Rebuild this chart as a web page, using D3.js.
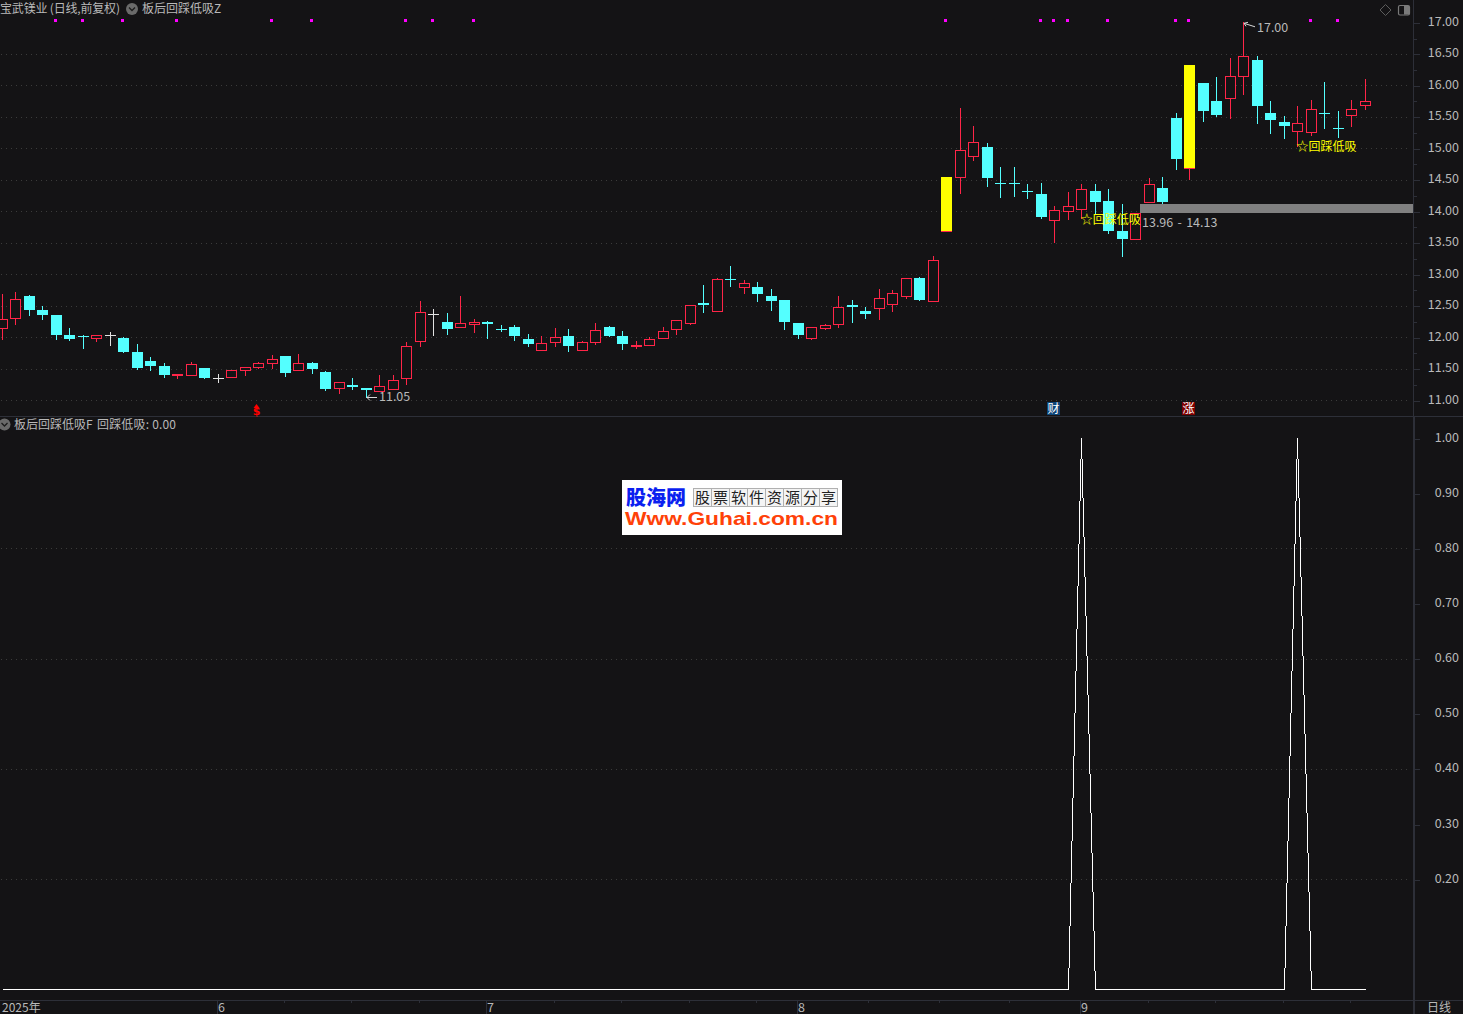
<!DOCTYPE html>
<html><head><meta charset="utf-8">
<script src="https://cdn.jsdelivr.net/npm/d3@7/dist/d3.min.js"></script>
<style>
html,body{margin:0;padding:0;background:#141315;overflow:hidden}
svg{display:block}
text{font-family:"Noto Sans CJK SC","Noto Sans",sans-serif;fill:#b9b9b9;font-size:12px}
</style></head><body><div id="c"></div>
<script>
const opens=[12.15,12.30,12.65,12.43,12.35,12.03,12.02,11.99,12.03,11.98,
11.76,11.62,11.54,11.40,11.40,11.51,11.35,11.36,11.47,11.53,
11.58,11.70,11.47,11.58,11.44,11.19,11.24,11.19,11.15,11.18,
11.35,11.93,12.37,12.24,12.16,12.21,12.24,12.135,12.16,11.97,
11.80,11.92,12.01,11.80,11.92,12.16,12.02,11.85,11.87,11.98,
12.12,12.23,12.54,12.42,12.925,12.80,12.80,12.66,12.59,12.23,
11.99,12.15,12.20,12.51,12.42,12.46,12.52,12.65,12.94,12.57,
13.69,14.55,14.88,15.02,14.445,14.445,14.325,14.28,13.86,14.01,
14.03,14.32,14.16,13.69,13.55,14.15,14.37,15.48,14.69,16.04,
15.75,15.80,16.14,16.40,15.56,15.42,15.28,15.25,15.565,15.32,
15.52,15.69];
const closes=[12.28,12.61,12.43,12.35,12.04,11.97,12.01,12.03,12.03,11.77,
11.51,11.54,11.39,11.41,11.57,11.35,11.35,11.47,11.53,11.58,
11.65,11.43,11.58,11.49,11.18,11.28,11.21,11.16,11.22,11.31,
11.85,12.39,12.37,12.13,12.22,12.24,12.20,12.125,12.01,11.89,
11.90,12.00,11.85,11.92,12.11,12.02,11.89,11.88,11.97,12.10,
12.27,12.51,12.51,12.92,12.915,12.86,12.69,12.58,12.24,12.04,
12.16,12.19,12.48,12.47,12.37,12.62,12.70,12.94,12.59,13.22,
14.54,14.97,15.10,14.53,14.435,14.435,14.315,13.91,14.02,14.08,
14.35,14.15,13.69,13.56,13.97,14.43,14.15,14.83,16.32,15.59,
15.53,16.14,16.46,15.67,15.45,15.35,15.40,15.63,15.555,15.30,
15.63,15.75];
const highs=[12.68,12.71,12.67,12.49,12.35,12.14,12.03,12.03,12.08,12.00,
11.89,11.68,11.59,11.42,11.60,11.51,11.41,11.47,11.53,11.60,
11.71,11.70,11.73,11.60,11.46,11.28,11.35,11.19,11.39,11.39,
11.92,12.57,12.44,12.38,12.65,12.29,12.25,12.19,12.19,12.05,
12.02,12.15,12.12,11.94,12.23,12.18,12.10,11.93,12.00,12.16,
12.27,12.51,12.83,12.94,13.13,12.91,12.88,12.77,12.59,12.23,
12.16,12.21,12.66,12.59,12.48,12.77,12.74,12.94,12.96,13.28,
14.54,15.64,15.35,15.08,14.70,14.70,14.43,14.45,14.08,14.31,
14.43,14.43,14.35,14.12,13.97,14.53,14.54,15.56,16.32,16.04,
16.13,16.43,17.00,16.47,15.75,15.51,15.67,15.77,16.05,15.59,
15.77,16.10];
const lows=[11.97,12.21,12.35,12.28,11.97,11.96,11.83,11.93,11.88,11.77,
11.49,11.47,11.37,11.35,11.40,11.35,11.29,11.36,11.40,11.51,
11.51,11.38,11.47,11.43,11.16,11.11,11.17,11.05,11.15,11.18,
11.25,11.86,12.03,12.05,12.16,12.08,11.98,12.09,11.96,11.86,
11.80,11.86,11.78,11.80,11.89,12.02,11.81,11.83,11.87,11.98,
12.05,12.20,12.39,12.42,12.81,12.70,12.58,12.43,12.12,11.99,
11.97,12.13,12.16,12.24,12.31,12.28,12.42,12.62,12.59,12.57,
13.69,14.29,14.81,14.40,14.23,14.24,14.21,13.89,13.51,13.88,
13.89,13.97,13.66,13.28,13.55,14.15,14.13,14.67,14.51,15.43,
15.51,15.48,15.86,15.40,15.24,15.16,15.04,15.21,15.32,15.18,
15.35,15.62];
const limitUpBars=[{i:70,from:13.69,to:14.54},{i:88,from:14.69,to:16.32}];
const signalDots=[4,6,9,13,20,23,30,32,35,70,77,78,79,82,87,88,97,99];
const signalLabels=[{i:80,text:"☆回踩低吸"},{i:96,text:"☆回踩低吸"}];
const pivotLabels=[{i:27,value:11.05},{i:92,value:17.00}];
const zone={startIndex:84,low:13.96,high:14.13,label:"13.96 - 14.13"};
const eventTags=[{i:78,text:"财",bg:"#0d4477"},{i:88,text:"涨",bg:"#7f0000"}];
const dollarTagIndex=19;
const signalIndices=[80,96];
const lowerValues=opens.map((_,i)=>signalIndices.includes(i)?1:0);
const priceTicks=[11,11.5,12,12.5,13,13.5,14,14.5,15,15.5,16,16.5,17];
const priceMinor=[11.25,11.75,12.25,12.75,13.25,13.75,14.25,14.75,15.25,15.75,16.25,16.75];
const lowerTicks=[0.2,0.3,0.4,0.5,0.6,0.7,0.8,0.9,1];
const lowerGrid=[0.2,0.4,0.6,0.8];
const monthTicks=[{i:16,t:"6"},{i:36,t:"7"},{i:59,t:"8"},{i:80,t:"9"}];
const minorTimeTicks=[21,26,31,41,46,51,56,64.3,69.5,74.7,85,90,95,100];

const W=1463,H=1014,AX=1414,BG="#141315",RED="#ff2548",CYAN="#54ffff",LINE="#2d2f38",GRID="#3b3b3b";
const x=d3.scaleLinear().domain([0,101]).range([2.1,1365.1]);
const y=d3.scaleLinear().domain([11,17]).range([400,22.3]);
const y2=d3.scaleLinear().domain([0,1]).range([989.5,438]);
const px=i=>Math.floor(x(i));

const svg=d3.select("#c").append("svg").attr("width",W).attr("height",H).attr("viewBox",`0 0 ${W} ${H}`);
svg.append("rect").attr("width",W).attr("height",H).attr("fill",BG);

// grid
const grid=svg.append("g").attr("stroke",GRID).attr("stroke-dasharray","1 4").attr("shape-rendering","crispEdges");
grid.selectAll(".a").data(priceTicks.filter(d=>d<17)).join("line").attr("class","a")
 .attr("x1",1).attr("x2",AX-3).attr("y1",d=>Math.round(y(d))+.5).attr("y2",d=>Math.round(y(d))+.5);
grid.selectAll(".b").data(lowerGrid).join("line").attr("class","b")
 .attr("x1",1).attr("x2",AX-3).attr("y1",d=>Math.round(y2(d))+.5).attr("y2",d=>Math.round(y2(d))+.5);

// frame lines
const frame=svg.append("g").attr("stroke",LINE).attr("shape-rendering","crispEdges");
frame.append("line").attr("x1",0).attr("x2",W).attr("y1",416.5).attr("y2",416.5);
frame.append("line").attr("x1",0).attr("x2",W).attr("y1",1000.5).attr("y2",1000.5);
frame.append("line").attr("x1",AX-.5).attr("x2",AX-.5).attr("y1",0).attr("y2",417);
frame.append("line").attr("x1",AX).attr("x2",AX).attr("y1",417).attr("y2",H).attr("stroke-width",2);

// candles
const idx=d3.range(opens.length);
const cg=svg.append("g").attr("shape-rendering","crispEdges");
const color=i=>closes[i]>opens[i]?RED:closes[i]<opens[i]?CYAN:"#e2e2e2";
cg.selectAll(".w").data(idx).join("rect").attr("class","w")
 .attr("fill",color).attr("x",i=>px(i)).attr("width",1)
 .attr("y",i=>Math.round(y(highs[i]))).attr("height",i=>Math.round(y(lows[i]))-Math.round(y(highs[i]))+1);
cg.selectAll(".body").data(idx).join("rect").attr("class","body")
 .each(function(i){
   const t=Math.round(y(Math.max(opens[i],closes[i]))),b=Math.round(y(Math.min(opens[i],closes[i])));
   const s=d3.select(this),p=px(i);
   if(closes[i]>opens[i]){s.attr("x",p-4.5).attr("y",t+.5).attr("width",10).attr("height",Math.max(b-t,1)).attr("fill",BG).attr("stroke",RED);}
   else{s.attr("x",p-5).attr("y",t).attr("width",11).attr("height",Math.max(b-t,1)).attr("fill",color(i));}
 });

// yellow bars
cg.selectAll(".lim").data(limitUpBars).join("rect").attr("class","lim")
 .attr("x",d=>px(d.i)-5).attr("width",11).attr("y",d=>Math.round(y(d.to))).attr("height",d=>Math.round(y(d.from))-Math.round(y(d.to))).attr("fill","#ffff00");

// zone
cg.append("rect").attr("x",px(zone.startIndex)+5).attr("width",AX-px(zone.startIndex)-5-1)
 .attr("y",Math.round(y(zone.high))+1).attr("height",Math.round(y(zone.low))-Math.round(y(zone.high))-2).attr("fill","#808080");
svg.append("text").attr("x",px(zone.startIndex)+7).attr("y",y(zone.low)+13).style("font-size","12.5px").style("word-spacing","1.5px").text(zone.label);

// signal dots
cg.selectAll(".dot").data(signalDots).join("rect").attr("class","dot")
 .attr("x",d=>px(d)-2).attr("y",19).attr("width",3).attr("height",3).attr("fill","#ff00ff");

// signal labels
svg.selectAll(".sig").data(signalLabels).join("text").attr("class","sig")
 .attr("x",d=>x(d.i)-1).attr("y",d=>y(lows[d.i])+5.5).style("fill","#ffff00").text(d=>d.text);

// pivots
const piv=svg.append("g");
pivotLabels.forEach(d=>{
  const isLow=d.value<12, c=px(d.i);
  const yy=isLow?397:y(d.value)+1;
  const ey=isLow?397:y(d.value)+4;
  piv.append("path").attr("fill","none").attr("stroke","#d8d8d8")
    .attr("d",isLow?`M${c+11},${ey+.5}H${c+1}M${c+4},${yy-2.5}L${c+1},${yy+.5}L${c+4},${yy+3.5}`
                   :`M${c+12},${ey+.5}L${c+1},${yy}M${c+5},${yy-1}L${c+1},${yy}L${c+3},${yy+3}`);
  piv.append("text").attr("x",c+(isLow?13:14)).attr("y",(isLow?396:27.5)+4.5).style("font-size","12.5px").text(d3.format(".2f")(d.value));
});

// event tags
const tg=svg.append("g");
eventTags.forEach(d=>{
  const c=px(d.i)-.5;
  tg.append("rect").attr("x",c-6.5).attr("y",402).attr("width",13).attr("height",13).attr("fill",d.bg);
  tg.append("text").attr("x",c).attr("y",412.8).attr("text-anchor","middle").style("font-size","12px").style("fill","#fff").text(d.text);
});
{
  const c=px(dollarTagIndex)-1.5;
  tg.append("path").attr("d",`M${c-3},408L${c},404L${c+3},408Z`).attr("fill","#ff0000");
  tg.append("text").attr("x",c).attr("y",415).attr("text-anchor","middle")
    .style("font-size","11px").style("font-weight","700").style("font-family","'DejaVu Sans'").style("fill","#ff0000").text("$");
}

// lower line
svg.append("path").datum(lowerValues).attr("fill","none").attr("stroke","#fff").attr("shape-rendering","crispEdges")
 .attr("d",d3.line().x((d,i)=>px(i)+.5).y(d=>y2(d)));

// axes
const styleAxis=(g,shift)=>{g.select(".domain").remove();
  g.selectAll("line").attr("stroke",LINE).attr("shape-rendering","crispEdges");
  g.selectAll("text").attr("x",45).attr("y",shift).attr("dy","0.32em").attr("text-anchor","end").style("font-size","12.5px");
  g.selectAll(".tick").attr("transform",function(){const t=d3.select(this).attr("transform");
    const m=/translate\(([^,]+),([^)]+)\)/.exec(t);return `translate(${m[1]},${Math.round(+m[2])+.5})`;});};
svg.append("g").attr("transform",`translate(${AX},0)`)
 .call(d3.axisRight(y).tickValues(priceTicks).tickSize(6).tickFormat(d3.format(".2f"))).call(styleAxis,-2);
svg.append("g").attr("transform",`translate(${AX},0)`)
 .call(d3.axisRight(y).tickValues(priceMinor).tickSize(3).tickFormat("")).call(styleAxis,-2);
svg.append("g").attr("transform",`translate(${AX},0)`)
 .call(d3.axisRight(y2).tickValues(lowerTicks).tickSize(6).tickFormat(d3.format(".2f"))).call(styleAxis,-1.5);
const monthAxis=svg.append("g").attr("transform","translate(0,1000)")
 .call(d3.axisBottom(x).tickValues(monthTicks.map(d=>d.i)).tickSize(14).tickPadding(0).tickFormat(i=>monthTicks.find(d=>d.i===i).t));
monthAxis.select(".domain").remove();
monthAxis.selectAll(".tick").attr("transform",function(i){return `translate(${px(i)-.5},0)`;});
monthAxis.selectAll("line").attr("stroke",LINE).attr("shape-rendering","crispEdges");
monthAxis.selectAll("text").attr("x",.5).attr("y",12).attr("dy",0).attr("text-anchor","start").style("font-size","12.5px");
const minorAxis=svg.append("g").attr("transform","translate(-1.5,1000)")
 .call(d3.axisBottom(x).tickValues(minorTimeTicks).tickSize(3).tickFormat(""));
minorAxis.select(".domain").remove();
minorAxis.selectAll("line").attr("stroke",LINE).attr("shape-rendering","crispEdges");
svg.append("text").attr("x",2).attr("y",1012).text("2025年");
svg.append("text").attr("x",1427).attr("y",1012).text("日线");

// headers
function chevron(cx,cy){
  svg.append("circle").attr("cx",cx).attr("cy",cy).attr("r",6).attr("fill","#6a6a6a");
  svg.append("path").attr("d",`M${cx-3},${cy-1.5}L${cx},${cy+1.5}L${cx+3},${cy-1.5}`).attr("fill","none").attr("stroke","#1c1c1c").attr("stroke-width",1.3);
}
svg.append("text").attr("x",0).attr("y",12.5).attr("textLength",120).text("宝武镁业 (日线,前复权)");
chevron(132,9);
svg.append("text").attr("x",142).attr("y",12.5).text("板后回踩低吸Z");
chevron(4.5,424.5);
svg.append("text").attr("x",14).attr("y",428.5).text("板后回踩低吸F");
svg.append("text").attr("x",97).attr("y",428.5).attr("textLength",79).text("回踩低吸: 0.00");

// top right icons
svg.append("path").attr("d","M1385.5,4.5L1391,10L1385.5,15.5L1380,10Z").attr("fill","none").attr("stroke","#5c5c5c");
svg.append("rect").attr("x",1398.5).attr("y",5.5).attr("width",11).attr("height",9.5).attr("rx",1.5).attr("fill","none").attr("stroke","#7a7a7a").attr("stroke-width",1.2);
svg.append("rect").attr("x",1404).attr("y",6).attr("width",5).attr("height",8.5).attr("fill","#7a7a7a");

// watermark logo
const logo=svg.append("g");
logo.append("rect").attr("x",622).attr("y",480).attr("width",220).attr("height",55).attr("fill","#fff");
logo.append("text").attr("x",626).attr("y",504.5).style("font-size","20px").style("font-weight","900").style("fill","#0b1ff0").text("股海网");
const cellChars=[..."股票软件资源分享"];
logo.append("rect").attr("x",693.5).attr("y",488.5).attr("width",144).attr("height",18).attr("fill","#f4f4f4").attr("stroke","#b0b0b0");
cellChars.forEach((ch,i)=>{
  if(i) logo.append("line").attr("x1",693.5+18*i).attr("x2",693.5+18*i).attr("y1",488.5).attr("y2",506.5).attr("stroke","#b0b0b0");
  logo.append("text").attr("x",702.5+18*i).attr("y",503).attr("text-anchor","middle").style("font-size","15px").style("fill","#222").text(ch);
});
logo.append("text").attr("x",625).attr("y",525).attr("textLength",213).attr("lengthAdjust","spacingAndGlyphs")
 .style("font-family","'Liberation Sans'").style("font-size","19px").style("font-weight","700").style("fill","#ff4108").text("Www.Guhai.com.cn");
</script></body></html>
